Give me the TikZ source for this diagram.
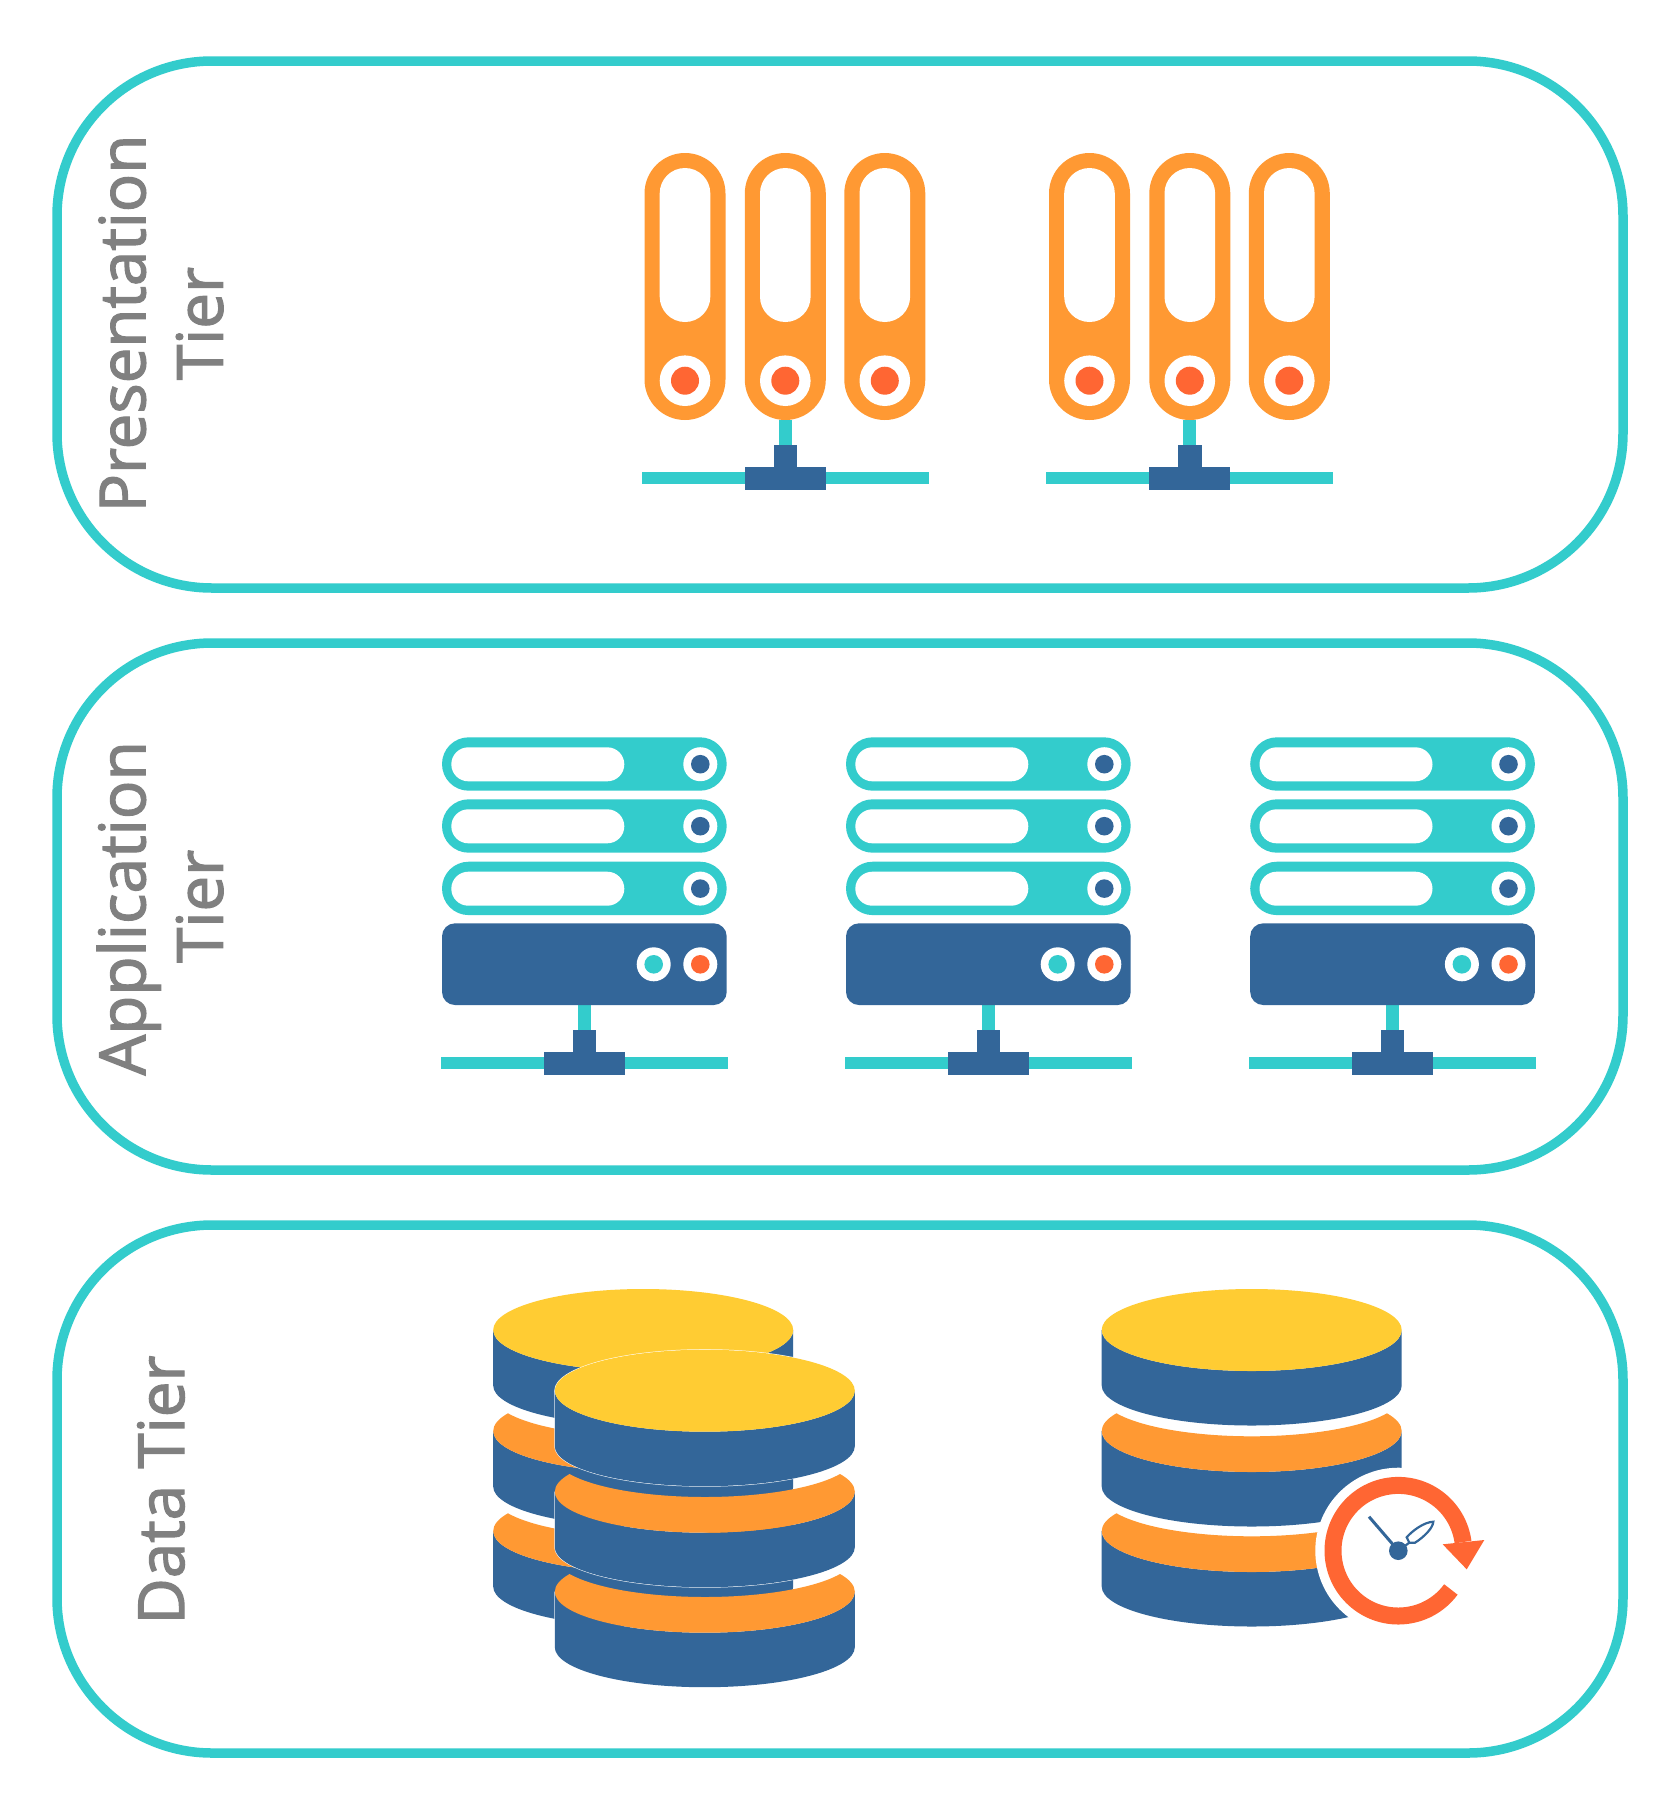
\documentclass[tikz,border=0pt]{standalone}
\usepackage{fontspec}
\setmainfont{Open Sans}[FakeBold=2]
\definecolor{teal1}{HTML}{33CCCC}
\definecolor{blue1}{HTML}{336699}
\definecolor{orange1}{HTML}{FF9933}
\definecolor{red1}{HTML}{FF6633}
\definecolor{yellow1}{HTML}{FFCC33}
\definecolor{gray1}{HTML}{808080}
\tikzset{
  tierbox/.style={draw=teal1,line width=9.5pt,rounded corners=155pt},
  tierlabel/.style={rotate=90,anchor=base,text=gray1,font=\fontsize{63.6}{64}\selectfont,inner sep=0pt},
  tealfill/.style={fill=teal1},
  bluefill/.style={fill=blue1},
  whitefill/.style={fill=white},
  redfill/.style={fill=red1},
  orangefill/.style={fill=orange1},
  yellowfill/.style={fill=yellow1},
  hairline/.style={draw=white,line width=1pt},
}
% network foot: #1 = x centre, #2 = y of top of stem
\newcommand{\netfoot}[2]{%
  \fill[tealfill] (#1-143.6,#2+51.7) rectangle (#1+143.6,#2+64);
  \fill[tealfill] (#1-6.6,#2) rectangle (#1+6.6,#2+25);
  \fill[bluefill] (#1-11.8,#2+25) rectangle (#1+11.8,#2+47);
  \fill[bluefill] (#1-40.5,#2+47) rectangle (#1+40.5,#2+70);
}
% vertical pill
\newcommand{\vpill}[1]{%
  \fill[orangefill,rounded corners=40.5pt] (#1-40.5,153) rectangle (#1+40.5,420);
  \fill[whitefill,rounded corners=25.3pt] (#1-25.3,168) rectangle (#1+25.3,322);
  \fill[whitefill] (#1,380.7) circle[radius=25.3];
  \fill[redfill] (#1,380.7) circle[radius=14];
}
\newcommand{\presgroup}[1]{%
  \begin{scope}[xshift=#1pt]
    \vpill{685}\vpill{785.3}\vpill{884.8}
    \netfoot{785.3}{420}
  \end{scope}
}
% horizontal bar: #1 = top y
\newcommand{\srvbar}[1]{%
  \fill[tealfill,rounded corners=26.7pt] (442,#1) rectangle (726.7,#1+53.4);
  \fill[whitefill,rounded corners=17pt] (451.3,#1+10) rectangle (624.3,#1+44);
  \fill[whitefill] (700.3,#1+26.9) circle[radius=17];
  \fill[bluefill] (700.3,#1+26.9) circle[radius=9.3];
}
\newcommand{\appgroup}[1]{%
  \begin{scope}[xshift=#1pt]
    \srvbar{737.3}\srvbar{799.3}\srvbar{861.7}
    \netfoot{584.4}{1005}
    \fill[bluefill,rounded corners=13pt] (442,923.3) rectangle (726.7,1005);
    \fill[whitefill] (653.7,964.3) circle[radius=17];
    \fill[tealfill] (653.7,964.3) circle[radius=9.3];
    \fill[whitefill] (700.3,964.3) circle[radius=17];
    \fill[redfill] (700.3,964.3) circle[radius=9.3];
  \end{scope}
}
% db body: #1 cx, #2 y0
\newcommand{\dbbody}[2]{%
  \fill[bluefill] (#1-150,#2) -- (#1-150,#2+55.5) arc[start angle=180,end angle=0,x radius=150,y radius=40]
    -- (#1+150,#2) arc[start angle=0,end angle=180,x radius=150,y radius=41] -- cycle;
}
\newcommand{\dbtop}[2]{%
  \dbbody{#1}{#2}
  \fill[yellowfill] (#1,#2) ellipse[x radius=150,y radius=41];
}
\newcommand{\dbmid}[2]{%
  \dbbody{#1}{#2}
  \fill[orangefill] (#1-150,#2) arc[start angle=180,end angle=205.6,x radius=150,y radius=41]
    arc[start angle=154.4,end angle=25.6,x radius=150,y radius=40.5]
    arc[start angle=334.4,end angle=360,x radius=150,y radius=41]
    arc[start angle=0,end angle=180,x radius=150,y radius=41] -- cycle;
}
\newcommand{\dbstack}[2]{%
  \dbmid{#1}{#2+201}
  \dbmid{#1}{#2+101}
  \dbtop{#1}{#2}
}
% white hairline round a layer of the stack in front
\newcommand{\dbhalo}[2]{%
  \draw[hairline] (#1-150,#2) -- (#1-150,#2+55.5) arc[start angle=180,end angle=0,x radius=150,y radius=40];
}
\begin{document}
\begin{tikzpicture}[x=1pt,y=1pt,yscale=-1]
\useasboundingbox (0,0) rectangle (1680,1813);
\fill[white] (0,0) rectangle (1680,1813);
% tier frames
\draw[tierbox] (57,61) rectangle (1623,588);
\draw[tierbox] (57,643) rectangle (1623,1170);
\draw[tierbox] (57,1225) rectangle (1623,1753);
% labels
\node[tierlabel] (pres1) at (145.3,323.5) {Presentation};
\node[tierlabel] (pres2) at (222.7,323.5) {Tier};
\node[tierlabel,font=\fontsize{64}{64}\selectfont] (app1) at (145.3,908.3) {Application};
\node[tierlabel] (app2) at (222.7,906.3) {Tier};
\node[tierlabel] (data1) at (184,1490) {Data Tier};
% presentation
\presgroup{0}
\presgroup{404.5}
% application
\appgroup{0}
\appgroup{404}
\appgroup{808.2}
% data
\dbstack{643.2}{1330}
\dbhalo{704.8}{1591.7}
\dbhalo{704.8}{1491.7}
\dbhalo{704.8}{1390.7}
\draw[hairline] (704.8,1390.7) ellipse[x radius=150,y radius=41];
\dbstack{704.8}{1390.7}
\dbstack{1251.7}{1330}
% clock
\fill[whitefill] (1398.3,1550.7) circle[radius=83];
\draw[red1,line width=17pt] (1398.3,1550.7) ++(36.4:65.3) arc[start angle=36.4,end angle=352.4,radius=65.3];
\fill[redfill] (1442.7,1544.3) -- (1484.3,1540) -- (1466.7,1569.3) -- cycle;
\draw[blue1,line width=3pt] (1398.3,1550.7) -- (1369,1516.7);
\draw[blue1,line width=2.2pt,fill=white] (1409.3,1542.7) -- (1406.7,1537.3) .. controls (1412,1531) and (1424,1522) .. (1433.3,1521.7) .. controls (1433,1528) and (1424,1537) .. (1415,1542.7) -- cycle;
\draw[blue1,line width=2.2pt] (1398.3,1550.7) -- (1409.3,1542.7);
\fill[bluefill] (1398.3,1550.7) circle[radius=9.3];
\end{tikzpicture}
\end{document}
